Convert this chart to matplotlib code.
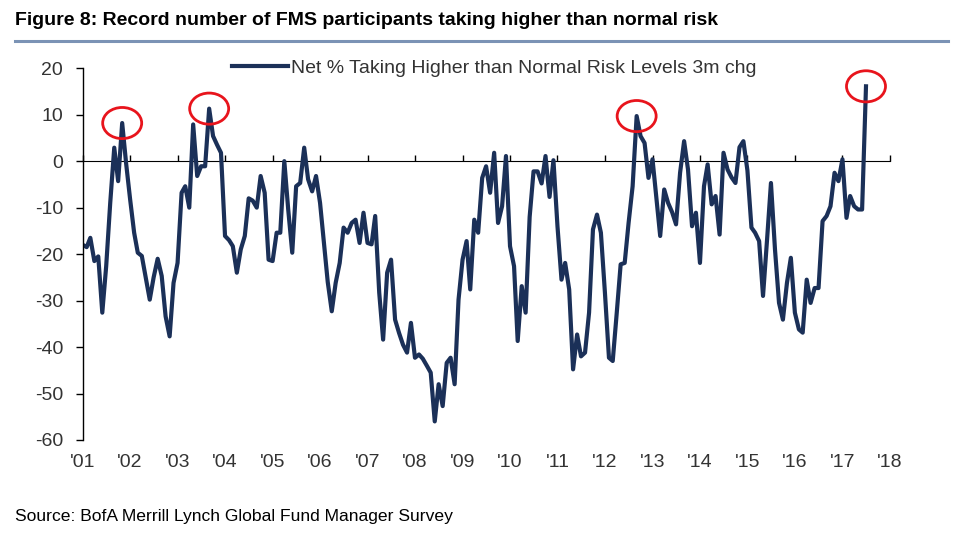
import numpy as np
import pandas as pd
import matplotlib
matplotlib.use("Agg")
import matplotlib.pyplot as plt
import matplotlib.dates as mdates
from matplotlib.patches import Ellipse
from matplotlib.lines import Line2D
from matplotlib.ticker import NullFormatter

plt.rcParams['axes.unicode_minus'] = False
plt.rcParams['font.family'] = ['Liberation Sans', 'DejaVu Sans']

# monthly FMS readings, Jan 2001 .. Jul 2017
net_risk = [
    -18, -18.5, -16.5, -21.5, -20.5, -32.6, -22.6, -9, 2.9, -4.3, 8.2, -0.4,
    -8.2, -15.4, -19.7, -20.4, -25, -29.8, -25, -21, -24.7, -33.4, -37.7, -26.2,
    -21.9, -6.8, -5.4, -10, 7.9, -3.2, -1.1, -1.1, 11.3, 5.4, 3.5, 1.8,
    -16.1, -17, -18.3, -24, -19, -16.1, -8, -8.5, -10, -3.2, -6.8, -21.2,
    -21.5, -15.4, -15.4, 0, -10.4, -19.7, -5.4, -4.7, 2.9, -3.9, -6.5, -3.2,
    -9, -18, -26, -32.3, -26.2, -21.9, -14.3, -15.4, -13.3, -12.6, -17.6, -11.1,
    -17.6, -17.9, -11.8, -28.3, -38.4, -24, -21.2, -34.1, -37, -39.5, -41.2, -34.8,
    -42.3, -41.6, -42.5, -44, -45.5, -56, -48, -52.7, -43.4, -42.3, -48, -29.8,
    -21.2, -17.2, -27.6, -12.6, -15.4, -3.6, -1.1, -6.8, 1.8, -13.3, -9.7, 1.1,
    -18.3, -22.6, -38.7, -26.9, -32.6, -12, -2.2, -2.2, -4.8, 1.1, -7.7, 0.2,
    -14, -25.5, -21.9, -27.6, -44.8, -37.3, -42, -41.2, -32.6, -14.7, -11.5, -15.4,
    -28.3, -42.3, -43, -32.6, -22.2, -21.9, -13.3, -5.4, 9.7, 5.4, 3.9, -3.6,
    0.4, -8.2, -16.1, -6.1, -9, -11, -13.6, -2.5, 4.3, -1.8, -14, -11.1,
    -21.9, -5.4, -0.7, -9.3, -7.5, -15.8, 1.8, -1.8, -3.5, -4.7, 3, 4.3,
    -2, -14.3, -15.4, -17.2, -29, -16.9, -4.7, -19, -30.5, -34.1, -26.2, -20.8,
    -32.6, -36.2, -36.9, -25.5, -30.5, -27.3, -27.3, -12.9, -11.8, -9.7, -2.5, -4.3,
    0.4, -12.2, -7.5, -9.7, -10.4, -10.4, 16.1,
]
dates = pd.date_range('2001-01-01', periods=len(net_risk), freq='MS')
peak_idx = [10, 32, 140, 198]   # circled record readings

years = pd.date_range('2001-01-01', '2018-01-01', freq='YS')
y_ticks = [20, 10, 0, -10, -20, -30, -40, -50, -60]

navy = '#1b3058'
txt = '#333333'
label_size = 14

fig = plt.figure(figsize=(9.6, 5.5), dpi=100)
ax = fig.add_axes([0.0861, 0.2, 0.8409, 0.676])

ax.plot(dates, net_risk, '-', color=navy, lw=3.0, solid_joinstyle='round')

# red circles round the record peaks
for i in peak_idx:
    ax.add_patch(Ellipse((mdates.date2num(dates[i]), net_risk[i]), width=300, height=6.7,
                         fill=False, edgecolor='#e8141c', lw=2.0, zorder=5))

ax.set_ylim(-60, 20)
ax.set_xlim(years[0], years[-1])
ax.set_yticks(y_ticks)
ax.set_yticklabels([str(v) for v in y_ticks])
ax.set_xticks(years)
ax.xaxis.set_major_formatter(mdates.DateFormatter("'%y"))

for s in ['top', 'right', 'bottom']:
    ax.spines[s].set_visible(False)
ax.spines['left'].set_linewidth(1.0)
ax.tick_params(axis='y', direction='out', length=5, width=1.0, labelsize=label_size, labelcolor=txt, pad=9)
ax.tick_params(axis='x', length=0, labelsize=label_size, labelcolor=txt, pad=10)

# zero line carrying the year ticks
zero_ax = ax.secondary_xaxis(0.75)
zero_ax.set_xticks(years)
zero_ax.xaxis.set_major_formatter(NullFormatter())
zero_ax.tick_params(axis='x', direction='out', length=4, width=1.0)
zero_ax.spines['bottom'].set_linewidth(1.0)

legend_elements = [Line2D([0], [0], color=navy, lw=3.0,
                          label='Net % Taking Higher than Normal Risk Levels 3m chg')]
leg = ax.legend(handles=legend_elements, loc='center left', bbox_to_anchor=(0.185, 1.0),
                frameon=False, borderpad=0, borderaxespad=0, handlelength=2.9,
                handletextpad=0.12, prop={'size': label_size})
for t in leg.get_texts():
    t.set_color(txt)

fig.text(0.016, 0.978, 'Figure 8: Record number of FMS participants taking higher than normal risk',
         fontsize=14, fontweight='bold', color='black', va='top')
fig.add_artist(Line2D([0.016, 0.988], [0.925, 0.925], color='#7b93b5', lw=2.2))
fig.text(0.016, 0.048, 'Source: BofA Merrill Lynch Global Fund Manager Survey',
         fontsize=12.6, color='black', va='bottom')

fig.savefig('out.png', dpi=100)
